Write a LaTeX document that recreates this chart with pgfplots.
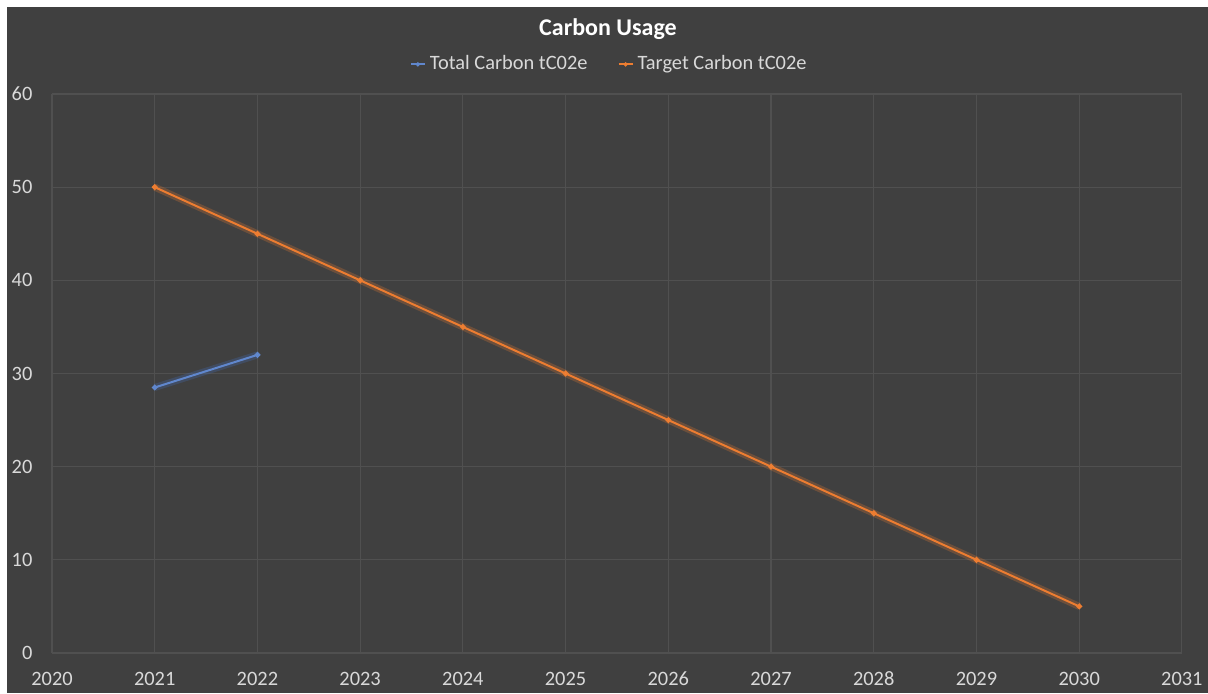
\documentclass[border=0pt]{standalone}
\usepackage{pgfplots}
\pgfplotsset{compat=1.18}
\usepackage{fontspec}
\setmainfont{Carlito}
\definecolor{chartbg}{HTML}{404040}
\definecolor{gridc}{HTML}{505050}
\definecolor{labelc}{HTML}{D9D9D9}
\definecolor{totalc}{HTML}{4472C4}
\definecolor{targetc}{HTML}{ED7D31}
\begin{document}
\begin{tikzpicture}
% page frame and chart area
\fill[white] (0,0) rectangle (604pt,346.5pt);
\fill[chartbg] (3.5pt,0) rectangle (604pt,343pt);
\begin{axis}[
  at={(26pt,20pt)}, anchor=south west,
  scale only axis, width=565pt, height=279.5pt,
  xmin=2020, xmax=2031, ymin=0, ymax=60,
  xtick={2020,...,2031}, ytick={0,10,...,60},
  major tick length=0pt,
  axis line style={draw=none},
  grid=major,
  major grid style={gridc, line width=0.6pt},
  /pgf/number format/assume math mode=true,
  /pgf/number format/1000 sep={},
  every tick label/.append style={inner sep=0pt, font=\fontsize{10.2}{12}\selectfont, text=labelc},
  xticklabel style={anchor=base, yshift=-16.3pt},
  yticklabel style={anchor=east, xshift=-9.6pt},
  extra description/.code={
    \node[anchor=base, inner sep=0pt, text=white, font=\fontsize{12}{14}\selectfont\bfseries]
      at (0.492,1.104) {Carbon Usage};
  },
  legend columns=2,
  legend style={at={(0.494,1.053)}, anchor=center, draw=none, fill=none,
    text=labelc, font=\fontsize{10.2}{12}\selectfont,
    /tikz/every even column/.append style={column sep=13pt}},
  legend image code/.code={\draw[#1] (0pt,0pt) -- (7pt,0pt); \fill[#1] (3.5pt,0pt) circle (0.5pt);},
]
% soft glow under each series
\addplot[totalc, line width=3.5pt, opacity=0.25, forget plot] coordinates {(2021,28.5) (2022,32)};
\addplot[targetc, line width=3.5pt, opacity=0.25, forget plot] coordinates {
  (2021,50) (2022,45) (2023,40) (2024,35) (2025,30) (2026,25) (2027,20) (2028,15) (2029,10) (2030,5)};
\addplot[totalc!85!white, line width=1pt, mark=*, mark size=0.9pt, mark options={fill=totalc!40!white, draw=none}]
  coordinates {(2021,28.5) (2022,32)};
\addlegendentry{Total Carbon tC02e}
\addplot[targetc, line width=1pt, mark=*, mark size=0.9pt, mark options={fill=targetc!40!white, draw=none}]
  coordinates {(2021,50) (2022,45) (2023,40) (2024,35) (2025,30) (2026,25) (2027,20) (2028,15) (2029,10) (2030,5)};
\addlegendentry{Target Carbon tC02e}
\end{axis}
\end{tikzpicture}
\end{document}
